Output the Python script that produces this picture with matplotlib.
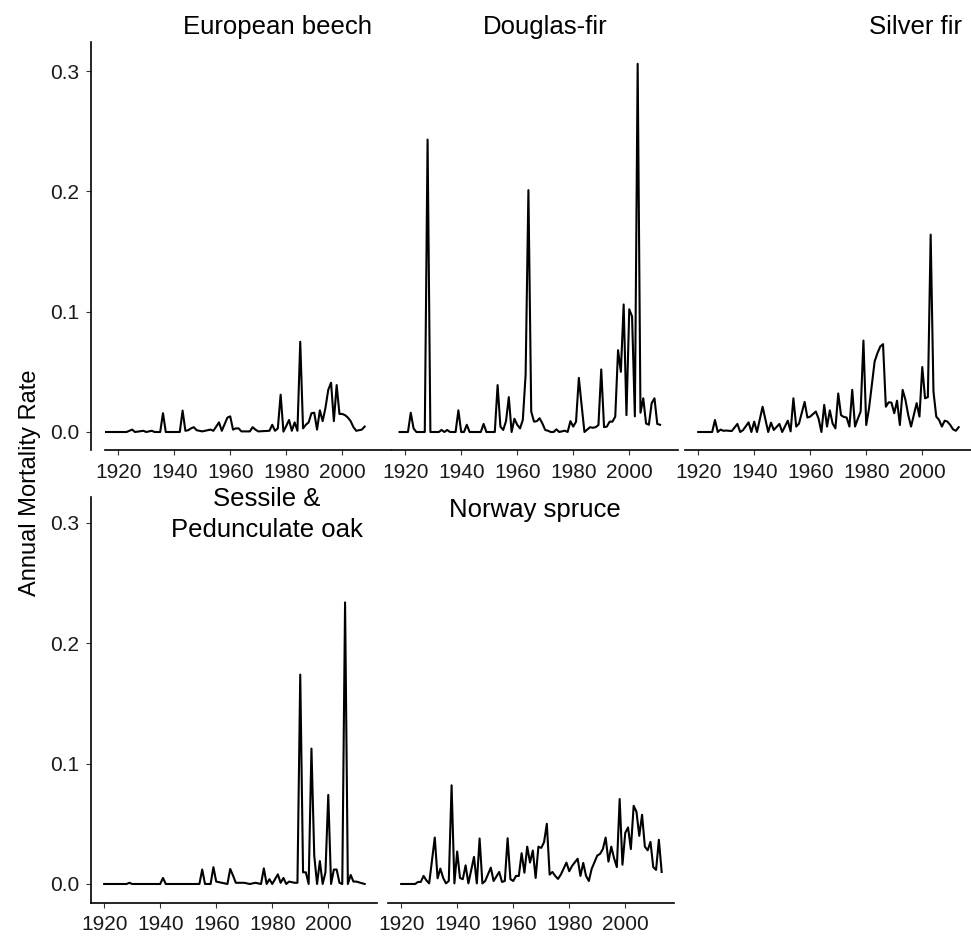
import numpy as np
import matplotlib
matplotlib.use('Agg')
import matplotlib.pyplot as plt

plt.rcParams['font.family'] = ['Liberation Sans', 'DejaVu Sans']

# annual mortality rate per species (year, rate)
beech_years = [1915, 1923, 1925, 1926, 1929, 1930, 1932, 1933, 1935, 1936, 1937, 1942, 1943,
               1944, 1945, 1946, 1947, 1948, 1950, 1953, 1954, 1956, 1957, 1959, 1960, 1961,
               1962, 1963, 1964, 1967, 1968, 1969, 1970, 1974, 1975, 1976, 1977, 1978, 1979,
               1980, 1981, 1982, 1983, 1984, 1985, 1986, 1987, 1988, 1989, 1990, 1991, 1992,
               1993, 1994, 1995, 1996, 1997, 1998, 1999, 2000, 2001, 2002, 2003, 2004, 2005,
               2006, 2007, 2008]
beech_rate = [0.0, 0.0, 0.002, 0.0, 0.001, 0.0, 0.001, 0.0, 0.0, 0.0156, 0.0, 0.0, 0.0178,
              0.001, 0.0015, 0.003, 0.004, 0.0015, 0.0005, 0.002, 0.001, 0.008, 0.001, 0.012,
              0.013, 0.002, 0.003, 0.003, 0.0005, 0.0005, 0.004, 0.002, 0.0005, 0.001, 0.006,
              0.001, 0.003, 0.031, 0.0003, 0.005, 0.01, 0.001, 0.008, 0.001, 0.075, 0.003, 0.006,
              0.008, 0.0156, 0.016, 0.002, 0.018, 0.009, 0.02, 0.035, 0.041, 0.009, 0.039, 0.015,
              0.015, 0.014, 0.012, 0.009, 0.004, 0.001, 0.0015, 0.002, 0.0045]

douglas_years = [1918, 1921, 1922, 1923, 1924, 1927, 1928, 1929, 1932, 1933, 1934, 1935, 1936,
                 1938, 1939, 1940, 1941, 1942, 1943, 1947, 1948, 1949, 1952, 1953, 1954, 1955,
                 1956, 1957, 1958, 1959, 1960, 1961, 1962, 1963, 1964, 1965, 1966, 1967, 1968,
                 1969, 1970, 1971, 1972, 1973, 1974, 1975, 1977, 1978, 1979, 1980, 1981, 1982,
                 1983, 1984, 1985, 1986, 1987, 1988, 1989, 1990, 1991, 1992, 1993, 1994, 1995,
                 1996, 1997, 1998, 1999, 2000, 2001, 2002, 2003, 2004, 2005, 2006, 2007, 2008,
                 2009, 2010, 2011]
douglas_rate = [0.0, 0.0, 0.016, 0.003, 0.0, 0.0, 0.243, 0.0, 0.0, 0.0017, 0.0, 0.0017, 0.0,
                0.0, 0.018, 0.0, 0.0, 0.006, 0.0, 0.0, 0.0067, 0.0, 0.0, 0.039, 0.0045, 0.0017,
                0.009, 0.029, 0.0, 0.011, 0.006, 0.003, 0.01, 0.0475, 0.201, 0.017, 0.0086, 0.009,
                0.0114, 0.007, 0.0017, 0.001, 0.0, 0.0, 0.0022, 0.0, 0.0011, 0.0, 0.009, 0.0045,
                0.0086, 0.045, 0.022, 0.0, 0.002, 0.004, 0.0035, 0.004, 0.0058, 0.052, 0.004,
                0.0045, 0.0086, 0.0086, 0.0128, 0.068, 0.050, 0.106, 0.014, 0.102, 0.096, 0.013,
                0.306, 0.016, 0.028, 0.007, 0.006, 0.024, 0.028, 0.0067, 0.006]

silver_years = [1920, 1925, 1926, 1927, 1928, 1929, 1930, 1931, 1932, 1934, 1935, 1936, 1938,
                1939, 1940, 1941, 1943, 1945, 1946, 1947, 1949, 1950, 1952, 1953, 1954, 1955,
                1956, 1958, 1959, 1960, 1962, 1963, 1964, 1965, 1966, 1967, 1968, 1969, 1970,
                1971, 1972, 1973, 1974, 1975, 1976, 1977, 1978, 1979, 1980, 1981, 1983, 1984,
                1985, 1986, 1987, 1988, 1989, 1990, 1991, 1992, 1993, 1994, 1995, 1996, 1998,
                1999, 2000, 2001, 2002, 2003, 2004, 2005, 2006, 2007, 2008, 2009, 2010, 2011,
                2012, 2013]
silver_rate = [0.0, 0.0, 0.010, 0.0, 0.002, 0.001, 0.0012, 0.001, 0.0008, 0.0067, 0.0, 0.0015,
               0.008, 0.0, 0.0086, 0.0, 0.021, 0.0, 0.0078, 0.0017, 0.0067, 0.0, 0.0094, 0.0005,
               0.028, 0.0045, 0.007, 0.025, 0.012, 0.0128, 0.017, 0.011, 0.0, 0.0225, 0.0045,
               0.018, 0.007, 0.003, 0.032, 0.014, 0.0125, 0.012, 0.0045, 0.035, 0.0045, 0.011,
               0.017, 0.076, 0.0058, 0.0197, 0.0586, 0.0655, 0.071, 0.073, 0.021, 0.0247, 0.0244,
               0.0156, 0.026, 0.0058, 0.035, 0.0267, 0.014, 0.0045, 0.024, 0.0128, 0.054, 0.028,
               0.029, 0.164, 0.0336, 0.0128, 0.01, 0.0045, 0.0094, 0.0086, 0.0058, 0.0022, 0.001,
               0.004]

oak_years = [1920, 1928, 1929, 1930, 1940, 1941, 1942, 1954, 1955, 1956, 1958, 1959, 1960,
             1962, 1964, 1965, 1966, 1967, 1970, 1972, 1974, 1976, 1977, 1978, 1979, 1980,
             1982, 1983, 1984, 1985, 1986, 1988, 1989, 1990, 1991, 1992, 1993, 1994, 1995,
             1996, 1997, 1998, 1999, 2000, 2001, 2002, 2003, 2004, 2005, 2006, 2007, 2008,
             2009, 2010, 2013]
oak_rate = [0.0, 0.0, 0.001, 0.0, 0.0, 0.005, 0.0, 0.0, 0.012, 0.0, 0.0, 0.014, 0.002, 0.001,
            0.0, 0.0125, 0.007, 0.001, 0.001, 0.0, 0.001, 0.0, 0.013, 0.0, 0.004, 0.0, 0.008,
            0.001, 0.005, 0.0, 0.002, 0.001, 0.001, 0.174, 0.0097, 0.0097, 0.0, 0.1125, 0.0236,
            0.0, 0.019, 0.0, 0.0097, 0.074, 0.0, 0.012, 0.012, 0.001, 0.0, 0.234, 0.0, 0.0075,
            0.002, 0.002, 0.0]

spruce_years = [1920, 1925, 1926, 1927, 1928, 1929, 1930, 1932, 1933, 1934, 1935, 1936, 1937,
                1938, 1939, 1940, 1941, 1942, 1943, 1944, 1946, 1947, 1948, 1949, 1950, 1952,
                1953, 1955, 1956, 1957, 1958, 1959, 1960, 1961, 1962, 1963, 1964, 1965, 1966,
                1967, 1968, 1969, 1970, 1971, 1972, 1973, 1974, 1975, 1976, 1977, 1979, 1980,
                1981, 1983, 1984, 1985, 1986, 1987, 1988, 1990, 1991, 1992, 1993, 1994, 1995,
                1996, 1997, 1998, 1999, 2000, 2001, 2002, 2003, 2004, 2005, 2006, 2007, 2008,
                2009, 2010, 2011, 2012, 2013]
spruce_rate = [0.0, 0.0, 0.0017, 0.0017, 0.0067, 0.003, 0.0005, 0.0386, 0.0047, 0.0128, 0.005,
               0.0005, 0.0025, 0.082, 0.0005, 0.027, 0.005, 0.004, 0.0155, 0.0005, 0.0225,
               0.0005, 0.0378, 0.0005, 0.0025, 0.0136, 0.0025, 0.01, 0.0017, 0.0025, 0.038,
               0.004, 0.0025, 0.0067, 0.0067, 0.0256, 0.0094, 0.031, 0.0178, 0.0278, 0.005,
               0.031, 0.03, 0.0347, 0.05, 0.0078, 0.01, 0.0067, 0.0042, 0.0078, 0.0178, 0.0106,
               0.015, 0.021, 0.0067, 0.0175, 0.0067, 0.0025, 0.0125, 0.0236, 0.025, 0.029,
               0.0386, 0.0186, 0.031, 0.0215, 0.014, 0.0706, 0.016, 0.0425, 0.047, 0.029, 0.065,
               0.060, 0.040, 0.0575, 0.031, 0.028, 0.035, 0.014, 0.0117, 0.0367, 0.01]

W, H = 971, 936
fig = plt.figure(figsize=(W / 100, H / 100), dpi=100)

def px_axes(left, top, right, bottom):
    return fig.add_axes([left / W, 1 - bottom / H, (right - left) / W, (bottom - top) / H])

# panel boxes in pixels: (left, top, right, bottom), ylim, show y axis, y axis offset
top_ylim = (-0.01496, 0.3241)
bot_ylim = (-0.0158, 0.3216)
panels = [
    (beech_years, beech_rate, (105, 42, 391, 450), top_ylim, True, 14),
    (douglas_years, douglas_rate, (392, 42, 678, 450), top_ylim, False, 0),
    (silver_years, silver_rate, (685, 42, 971, 450), top_ylim, False, 0),
    (oak_years, oak_rate, (91, 497, 377, 903), bot_ylim, True, 0),
    (spruce_years, spruce_rate, (388, 497, 674, 903), bot_ylim, False, 0),
]

tick_col = '#333333'
lab_col = '#1a1a1a'
for yrs, rate, box, ylim, yax, off in panels:
    ax = px_axes(*box)
    ax.plot(yrs, rate, color='black', lw=1.5, solid_joinstyle='round')
    ax.set_xlim(1915.3, 2017.4)
    ax.set_ylim(*ylim)
    ax.set_facecolor('none')
    ax.spines['top'].set_visible(False)
    ax.spines['right'].set_visible(False)
    ax.spines['bottom'].set_linewidth(1.2)
    ax.set_xticks([1920, 1940, 1960, 1980, 2000])
    ax.tick_params(axis='x', direction='out', length=3.5, width=0.8, color=tick_col,
                   labelsize=15, labelcolor=lab_col, pad=5.5)
    if yax:
        ax.spines['left'].set_linewidth(1.2)
        if off:
            ax.spines['left'].set_position(('outward', off * 0.72))
        ax.set_yticks([0.0, 0.1, 0.2, 0.3])
        ax.set_yticklabels(['0.0', '0.1', '0.2', '0.3'])
        ax.tick_params(axis='y', direction='out', length=3.5, width=0.8, color=tick_col,
                       labelsize=15, labelcolor=lab_col, pad=5)
    else:
        ax.spines['left'].set_visible(False)
        ax.set_yticks([])

# panel titles
fs_title = 18.5
fig.text(277 / W, 1 - 34 / H, 'European beech', ha='center', va='baseline', fontsize=fs_title)
fig.text(545 / W, 1 - 34 / H, 'Douglas-fir', ha='center', va='baseline', fontsize=fs_title)
fig.text(915 / W, 1 - 34 / H, 'Silver fir', ha='center', va='baseline', fontsize=fs_title)
fig.text(267 / W, 1 - 506 / H, 'Sessile &', ha='center', va='baseline', fontsize=fs_title)
fig.text(267 / W, 1 - 537 / H, 'Pedunculate oak', ha='center', va='baseline', fontsize=fs_title)
fig.text(535 / W, 1 - 517 / H, 'Norway spruce', ha='center', va='baseline', fontsize=fs_title)

fig.text(30 / W, 1 - 483 / H, 'Annual Mortality Rate', rotation=90, ha='center', va='center',
         fontsize=17)

fig.savefig('out.png', dpi=100)
